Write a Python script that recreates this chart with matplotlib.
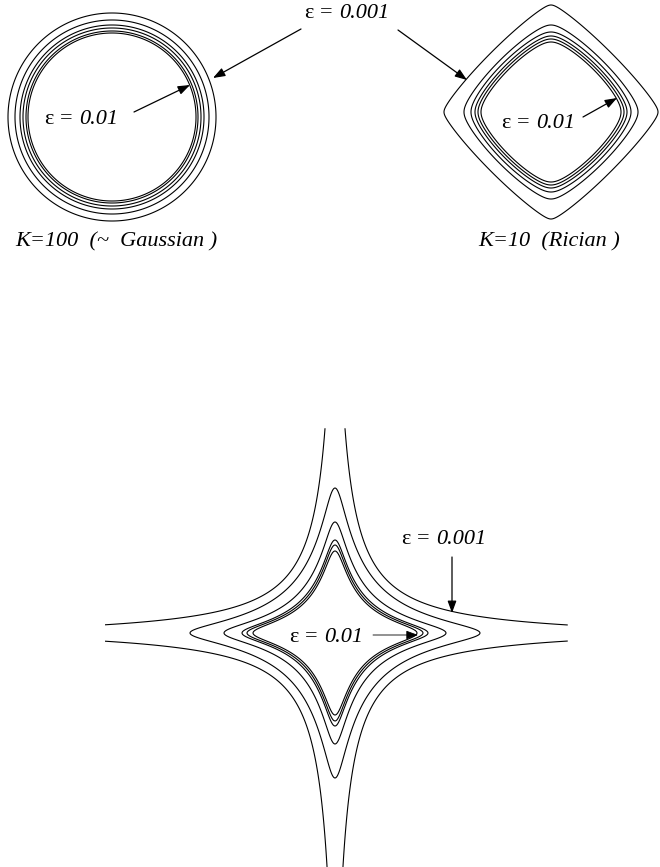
import numpy as np
import matplotlib
matplotlib.use("Agg")
import matplotlib.pyplot as plt

plt.rcParams["font.family"] = ["Liberation Serif", "DejaVu Serif"]

W, H = 660, 867

# contour levels, innermost first
eps_levels = [0.01, 0.008, 0.006, 0.004, 0.002, 0.001]

# half-extent along the axes (px), shape exponent and tip rounding of each contour
gauss_tips = [84, 86, 89, 92, 97, 104]
gauss_shape = [2.0, 2.0, 2.0, 2.0, 2.0, 2.0]
gauss_round = [0, 0, 0, 0, 0, 0]

rician_tips = [70, 73, 76, 80, 87, 107]
rician_shape = [1.3, 1.3, 1.3, 1.3, 1.25, 1.15]
rician_round = [8, 8, 8, 8, 7, 4]

# heavy tailed case: axis extent (px), tail scale and tip rounding of each contour
heavy_tips = [82, 88, 93, 111, 145, 420]
heavy_scale = [20, 20, 21, 23, 25, 8]
heavy_round = [8, 8, 8, 8, 8, 2]

captions = ["K=100  (~  Gaussian )", "K=10  (Rician )"]


def panel_grid(fig, cx, cy, ext, step):
    left, right, top, bottom = ext
    ax = fig.add_axes([(cx - left) / W, (H - cy - bottom) / H,
                       (left + right) / W, (top + bottom) / H])
    ax.set_xlim(-left, right)
    ax.set_ylim(-bottom, top)
    ax.axis("off")
    X, Y = np.meshgrid(np.arange(-left, right + 0.01, step),
                       np.arange(-bottom, top + 0.01, step))
    return ax, X, Y


def draw_panel(fig, cx, cy, ext, tips, shape, rnd, step=0.5):
    ax, X, Y = panel_grid(fig, cx, cy, ext, step)
    for a, p, c in zip(tips, shape, rnd):
        def g(u):
            return (u * u + c * c) ** (p / 2.0)
        ax.contour(X, Y, g(X) + g(Y), levels=[g(a) + g(0.0)],
                   colors="k", linewidths=0.8)
    return ax


def draw_heavy(fig, cx, cy, ext, tips, scale, rnd, step=0.75):
    ax, X, Y = panel_grid(fig, cx, cy, ext, step)
    for a, s, c in zip(tips, scale, rnd):
        def q(u):
            return 1.0 + (np.sqrt(u * u + c * c) - c) / s
        ax.contour(X, Y, q(X) * q(Y), levels=[q(a)],
                   colors="k", linewidths=0.8)
    return ax


fig = plt.figure(figsize=(W / 100, H / 100), dpi=100)
ov = fig.add_axes([0, 0, 1, 1])
ov.set_xlim(0, W)
ov.set_ylim(H, 0)
ov.axis("off")
renderer = fig.canvas.get_renderer()


def eps_text(x, y, val, size=16):
    t = ov.text(x, y, "ε =", fontsize=size, ha="left", va="center")
    bb = t.get_window_extent(renderer=renderer)
    gap = 0.3 * size * 100 / 72
    x2 = ov.transData.inverted().transform((bb.x1 + gap, 0))[0]
    ov.text(x2, y, str(val), fontsize=size, style="italic", ha="left", va="center")


draw_panel(fig, 112, 117, (112, 112, 115, 115), gauss_tips, gauss_shape, gauss_round)
draw_panel(fig, 551, 112, (115, 109, 112, 115), rician_tips, rician_shape, rician_round)
draw_heavy(fig, 335, 633, (230, 233, 205, 234), heavy_tips, heavy_scale, heavy_round)

arrow = dict(arrowstyle="-|>,head_length=0.6,head_width=0.22", color="k",
             lw=0.9, mutation_scale=12, shrinkA=0, shrinkB=0)

# top panels
eps_text(305, 14, eps_levels[-1])
ov.annotate("", xy=(213, 78), xytext=(301, 29), arrowprops=arrow)
ov.annotate("", xy=(467, 80), xytext=(398, 30), arrowprops=arrow)

eps_text(45, 120, eps_levels[0])
ov.annotate("", xy=(190, 85), xytext=(134, 112), arrowprops=arrow)

eps_text(502, 123, eps_levels[0])
ov.annotate("", xy=(617, 98), xytext=(583, 117), arrowprops=arrow)

ov.text(15, 242, captions[0], fontsize=16, style="italic", ha="left", va="center")
ov.text(478, 242, captions[1], fontsize=16, style="italic", ha="left", va="center")

# bottom panel
eps_text(402, 540, eps_levels[-1])
ov.annotate("", xy=(452, 613), xytext=(452, 557), arrowprops=arrow)

eps_text(290, 638, eps_levels[0])
ov.annotate("", xy=(418, 635), xytext=(373, 635), arrowprops=dict(arrow, lw=0.6))

fig.savefig("out.png", dpi=100)
